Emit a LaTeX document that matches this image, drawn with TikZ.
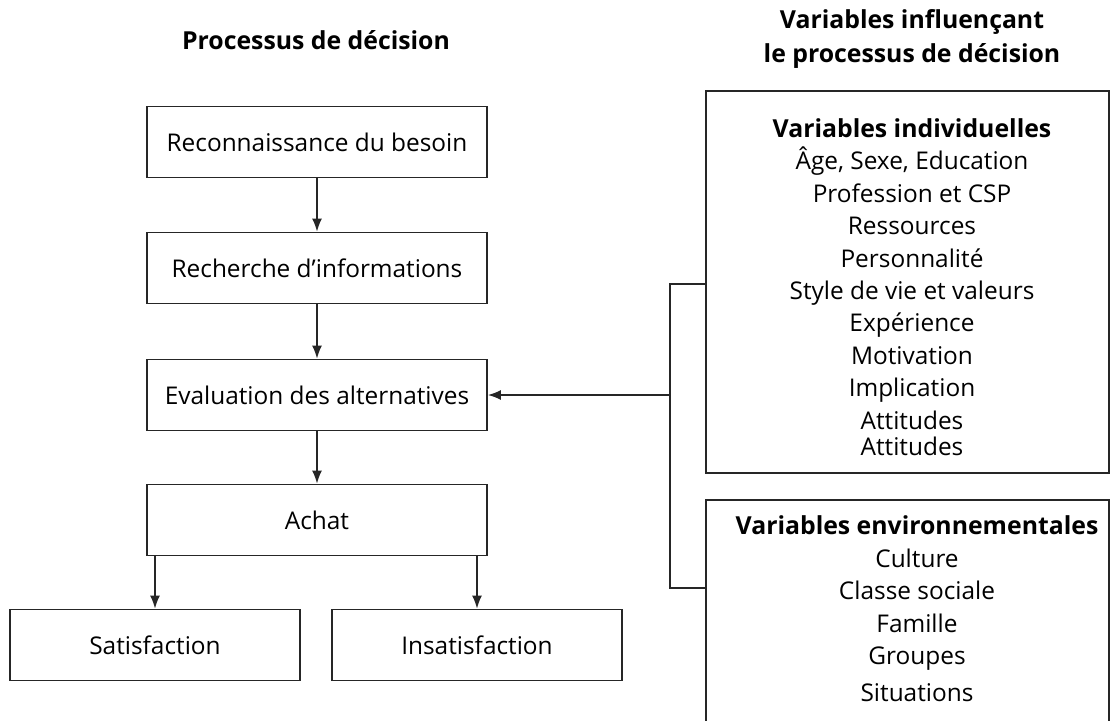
\documentclass[tikz,border=0pt]{standalone}
\usepackage{fontspec}
\setmainfont{Open Sans}
\usetikzlibrary{arrows.meta}

\tikzset{
    stage/.style={shape=rectangle,draw=black!85,line width=0.85pt,minimum width=170pt,minimum height=35.5pt,font=\fontsize{12.2}{14}\selectfont},
    result/.style={stage,minimum width=145pt},
    varbox/.style={shape=rectangle,draw=black!85,line width=0.85pt,minimum width=201.5pt},
    vartext/.style={align=center,font=\fontsize{12.2}{16.2}\selectfont},
    heading/.style={align=center,font=\fontsize{12.4}{17}\selectfont\bfseries},
}

\begin{document}
\begin{tikzpicture}[x=0.5pt,y=-0.5pt,>={Latex[length=6.5pt,width=5pt]},line width=0.85pt,draw=black!85]
    \clip (0,0) rectangle (1110,720);

    \node[heading] (T1) at (316,40) {Processus de décision};
    \node[heading] (T2) at (912,39) {Variables influençant\\le processus de décision};

    \node[stage] (S1) at (317,142) {Reconnaissance du besoin};
    \node[stage] (S2) at (317,268) {Recherche d’informations};
    \node[stage] (S3) at (317,395) {Evaluation des alternatives};
    \node[stage] (S4) at (317,520) {Achat};
    \node[result] (R1) at (155,645) {Satisfaction};
    \node[result] (R2) at (477,645) {Insatisfaction};

    \node[varbox,minimum height=191pt] (V1) at (907.5,282) {};
    \node[varbox,minimum height=150pt] (V2) at (907.5,650) {};

    \node[vartext] (L1) at (912,287) {{\fontsize{12.4}{16.2}\selectfont\bfseries Variables individuelles}\\Âge, Sexe, Education\\Profession et CSP\\Ressources\\Personnalité\\Style de vie et valeurs\\Expérience\\Motivation\\Implication\\Attitudes\\[-3.2pt]Attitudes};
    \node[vartext] (L2) at (917,609) {{\fontsize{12.4}{16.2}\selectfont\bfseries Variables environnementales}\\Culture\\Classe sociale\\Famille\\Groupes\\[2.5pt]Situations};

    \coordinate (J1) at (670,284);
    \coordinate (J0) at (670,395);
    \coordinate (J2) at (670,588);

    \path [->] (S1) edge (S2);
    \path [->] (S2) edge (S3);
    \path [->] (S3) edge (S4);
    \path [->] (S4.south -| R1) edge (R1);
    \path [->] (S4.south -| R2) edge (R2);
    \draw (V1.west |- J1) -- (J1) -- (J2) -- (V2.west |- J2);
    \path [->] (J0) edge (S3);
\end{tikzpicture}
\end{document}
